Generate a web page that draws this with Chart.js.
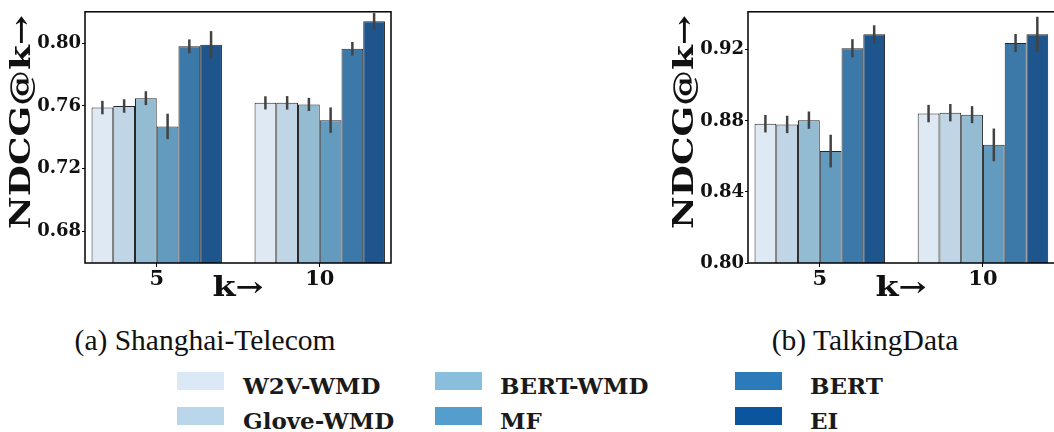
<!DOCTYPE html>
<html>
<head>
<meta charset="utf-8">
<script src="https://cdn.jsdelivr.net/npm/chart.js@4.4.0/dist/chart.umd.min.js"></script>
<style>
  html, body { margin: 0; padding: 0; background: #fff; }
  body { position: relative; width: 1054px; height: 432px; overflow: hidden; }
  canvas { position: absolute; top: 0; }
  #leftChart { left: 0; }
  #rightChart { left: 663px; }
  .caption { position: absolute; top: 324px; font: 29.5px "Liberation Serif", serif; color: #111; white-space: nowrap; transform: translateX(-50%); }
  .leg-patch { position: absolute; width: 47px; height: 18px; }
  .leg-text { position: absolute; height: 18px; line-height: 18px; font: bold 23px "DejaVu Serif", serif; color: #1a1a1a; white-space: nowrap; }
</style>
</head>
<body>
<canvas id="leftChart" width="400" height="310"></canvas>
<canvas id="rightChart" width="404" height="310"></canvas>
<div class="caption" style="left:205px">(a) Shanghai-Telecom</div>
<div class="caption" style="left:865px">(b) TalkingData</div>
<div id="legend"></div>
<script>
// methods (bar order inside each group)
const methods = ["W2V-WMD", "Glove-WMD", "BERT-WMD", "MF", "BERT", "EI"];
const kLabels = ["5", "10"];

// Shanghai-Telecom, NDCG@k per method
const shanghaiK5 = [0.759, 0.760, 0.765, 0.747, 0.798, 0.799];
const shanghaiK10 = [0.762, 0.762, 0.761, 0.751, 0.7965, 0.814];
const shanghaiErrK5 = [0.0043, 0.0043, 0.0044, 0.0081, 0.0044, 0.0087];
const shanghaiErrK10 = [0.0042, 0.0043, 0.0042, 0.0081, 0.0043, 0.0052];
const shanghaiTicks = [0.68, 0.72, 0.76, 0.80];

// TalkingData, NDCG@k per method
const talkingK5 = [0.8784, 0.878, 0.8804, 0.863, 0.9209, 0.9287];
const talkingK10 = [0.8841, 0.8846, 0.8835, 0.8665, 0.9238, 0.9287];
const talkingErrK5 = [0.0049, 0.0049, 0.0049, 0.0092, 0.0051, 0.0051];
const talkingErrK10 = [0.0049, 0.0049, 0.0048, 0.0092, 0.0051, 0.0099];
const talkingTicks = [0.80, 0.84, 0.88, 0.92];

// seaborn Blues (bars are desaturated, legend is not)
const barColors = ["#dee9f3", "#c0d5e5", "#93bbd2", "#629bbe", "#3d79a8", "#1e558d"];
const legendColors = ["#dbe9f6", "#bad6eb", "#89bedc", "#539ecd", "#2b7bba", "#0b559f"];

const yTitle = "NDCG@k\u2192";
const xTitle = "k\u2192";

// draws the error bars on top of each bar
const errorBars = {
  id: "errorBars",
  afterDatasetsDraw(chart) {
    const ctx = chart.ctx;
    const yScale = chart.scales.y;
    ctx.save();
    ctx.strokeStyle = "#424242";
    ctx.lineWidth = 2.5;
    chart.data.datasets.forEach((ds, i) => {
      chart.getDatasetMeta(i).data.forEach((bar, j) => {
        const v = ds.data[j].y;
        const e = ds.errors[j];
        ctx.beginPath();
        ctx.moveTo(bar.x, yScale.getPixelForValue(v - e));
        ctx.lineTo(bar.x, yScale.getPixelForValue(v + e));
        ctx.stroke();
      });
    });
    ctx.restore();
  }
};

// axes frame + the wide latex-looking axis titles
const frameAndTitles = {
  id: "frameAndTitles",
  afterDraw(chart) {
    const ctx = chart.ctx;
    const area = chart.chartArea;
    ctx.save();
    ctx.strokeStyle = "#000";
    ctx.lineWidth = 1.5;
    ctx.strokeRect(area.left, area.top, area.right - area.left, area.bottom - area.top);

    ctx.fillStyle = "#111";
    ctx.font = "bold 27px 'DejaVu Serif'";
    ctx.textAlign = "center";
    ctx.textBaseline = "middle";

    // y title, rotated and stretched a bit
    ctx.save();
    ctx.translate(23, 122);
    ctx.rotate(-Math.PI / 2);
    let w = ctx.measureText(yTitle).width;
    ctx.scale(214 / w, 1);
    ctx.fillText(yTitle, 0, 0);
    ctx.restore();

    // x title
    ctx.save();
    ctx.translate(238, 289);
    w = ctx.measureText(xTitle).width;
    ctx.scale(51 / w, 1);
    ctx.fillText(xTitle, 0, 0);
    ctx.restore();

    ctx.restore();
  }
};

function makeChart(id, k5, k10, err5, err10, yMin, yMax, yTicks, xMax) {
  const datasets = methods.map((name, i) => ({
    label: name,
    data: [{ x: 0, y: k5[i] }, { x: 1, y: k10[i] }],
    errors: [err5[i], err10[i]],
    backgroundColor: barColors[i],
    borderColor: "#262626",
    borderWidth: 1,
    borderSkipped: false,
    categoryPercentage: 0.8,
    barPercentage: 1.0
  }));

  return new Chart(document.getElementById(id), {
    type: "bar",
    data: { datasets: datasets },
    options: {
      responsive: false,
      animation: false,
      layout: { padding: { top: 6, right: 9, left: 0, bottom: 0 } },
      plugins: {
        legend: { display: false },
        tooltip: { enabled: false }
      },
      scales: {
        x: {
          type: "linear",
          offset: false,
          bounds: "data",
          min: -0.44,
          max: xMax,
          afterFit: (s) => { s.height = 47; },
          afterBuildTicks: (s) => { s.ticks = kLabels.map((_, i) => ({ value: i })); },
          grid: { display: true, offset: false, drawOnChartArea: false, drawTicks: true, tickLength: 4, color: "#000" },
          border: { display: false },
          ticks: {
            padding: 0,
            color: "#111",
            font: { family: "DejaVu Serif", weight: "bold", size: 21 },
            callback: (v) => kLabels[v]
          }
        },
        y: {
          min: yMin,
          max: yMax,
          afterFit: (s) => { s.width = 85; },
          afterBuildTicks: (s) => { s.ticks = yTicks.map((v) => ({ value: v })); },
          grid: { display: true, drawOnChartArea: false, drawTicks: true, tickLength: 3, color: "#000" },
          border: { display: false },
          ticks: {
            padding: 1,
            color: "#111",
            font: { family: "DejaVu Serif", weight: "bold", size: 18 },
            callback: (v) => v.toFixed(2)
          }
        }
      }
    },
    plugins: [errorBars, frameAndTitles]
  });
}

makeChart("leftChart", shanghaiK5, shanghaiK10, shanghaiErrK5, shanghaiErrK10, 0.66, 0.82, shanghaiTicks, 1.437);
makeChart("rightChart", talkingK5, talkingK10, talkingErrK5, talkingErrK10, 0.80, 0.9414, talkingTicks, 1.46);

// legend: 3 columns, filled column by column
const legendCols = [177, 435, 735];
const legendTextX = [243, 500, 810];
const legendRows = [372, 407];
const legend = document.getElementById("legend");
methods.forEach((name, i) => {
  const col = Math.floor(i / 2);
  const row = i % 2;
  const patch = document.createElement("div");
  patch.className = "leg-patch";
  patch.style.left = legendCols[col] + "px";
  patch.style.top = legendRows[row] + "px";
  patch.style.background = legendColors[i];
  legend.appendChild(patch);

  const text = document.createElement("div");
  text.className = "leg-text";
  text.style.left = legendTextX[col] + "px";
  text.style.top = legendRows[row] + "px";
  text.textContent = name;
  legend.appendChild(text);
});
</script>
</body>
</html>
